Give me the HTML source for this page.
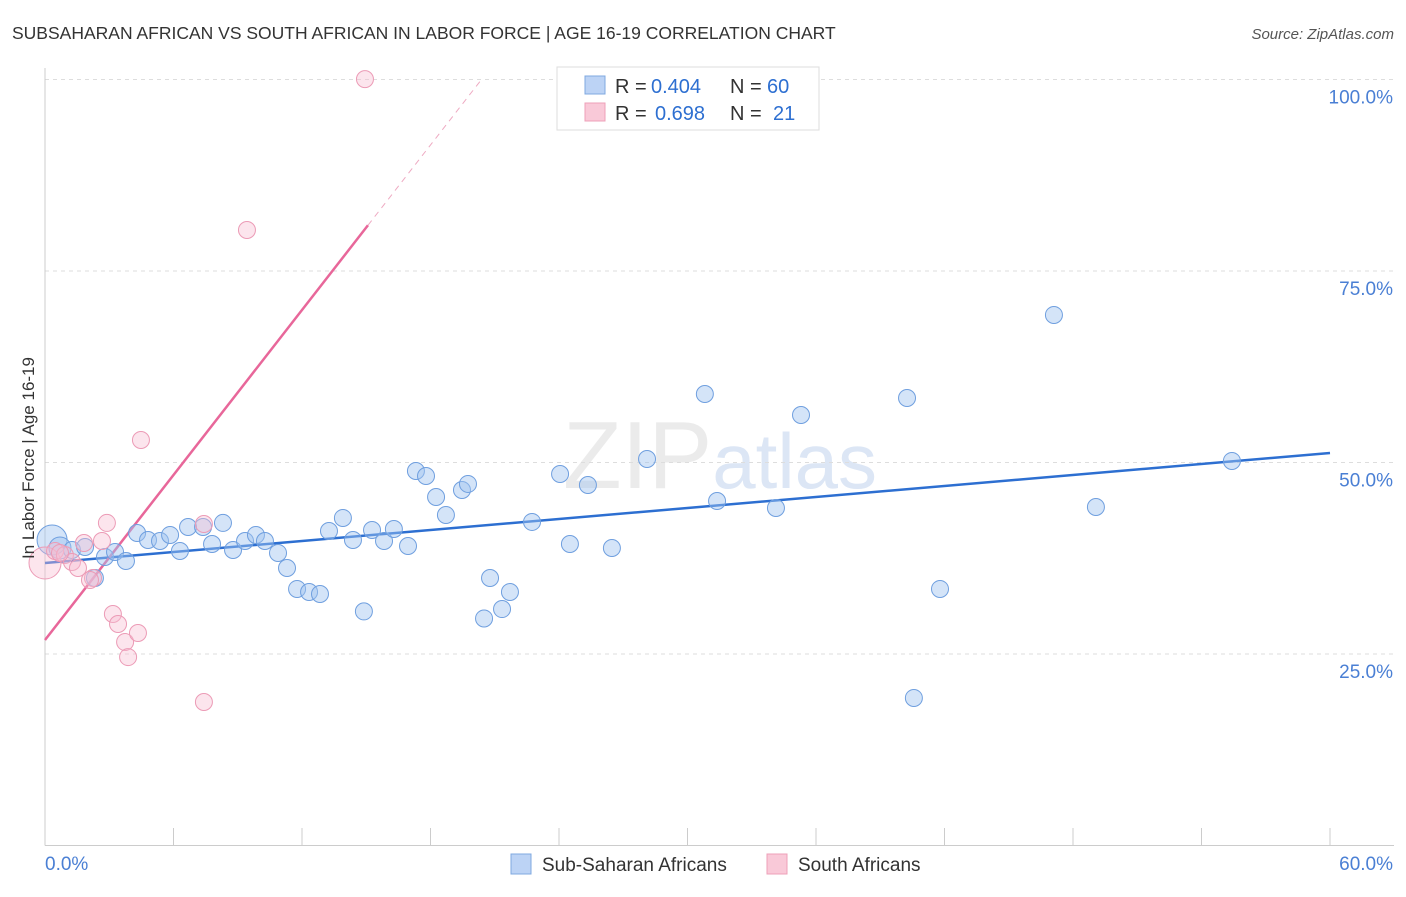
<!DOCTYPE html>
<html><head><meta charset="utf-8"><style>
body{margin:0;background:#fff;font-family:"Liberation Sans",sans-serif;}
svg text{font-family:"Liberation Sans",sans-serif;}
</style></head><body>
<svg id="chart" width="1406" height="892" xmlns="http://www.w3.org/2000/svg">
<text x="12" y="39" font-size="17.5" fill="#333">SUBSAHARAN AFRICAN VS SOUTH AFRICAN IN LABOR FORCE | AGE 16-19 CORRELATION CHART</text>
<text x="1394" y="39" font-size="15" fill="#555" text-anchor="end" font-style="italic">Source: ZipAtlas.com</text>
<text x="720" y="488" font-size="96" text-anchor="middle" fill="#ebebeb" font-family="Liberation Serif"><tspan>ZIP</tspan><tspan fill="#dce6f5" font-family="Liberation Sans" font-size="78">atlas</tspan></text>
<g id="grid"></g>
<g id="axes"></g>
<g id="trend"></g>
<g id="pts"></g>
<text transform="translate(34,458) rotate(-90)" font-size="17" fill="#333" text-anchor="middle">In Labor Force | Age 16-19</text>
<g>
<rect x="557" y="67" width="262" height="63" fill="#fff" stroke="#ddd"/>
<rect x="585" y="76" width="20" height="18" fill="#bcd3f5" stroke="#7fa8e0"/>
<rect x="585" y="103" width="20" height="18" fill="#f9c9d8" stroke="#eea0b8"/>
<text x="615" y="93" font-size="20" fill="#333">R =</text>
<text x="651" y="93" font-size="20" fill="#2d6fd1">0.404</text>
<text x="730" y="93" font-size="20" fill="#333">N =</text>
<text x="767" y="93" font-size="20" fill="#2d6fd1">60</text>
<text x="615" y="120" font-size="20" fill="#333">R =</text>
<text x="655" y="120" font-size="20" fill="#2d6fd1">0.698</text>
<text x="730" y="120" font-size="20" fill="#333">N =</text>
<text x="773" y="120" font-size="20" fill="#2d6fd1">21</text>
</g>
<g>
<rect x="511" y="854" width="20" height="20" fill="#bcd3f5" stroke="#7fa8e0"/>
<text x="542" y="871" font-size="19" fill="#333">Sub-Saharan Africans</text>
<rect x="767" y="854" width="20" height="20" fill="#f9c9d8" stroke="#eea0b8"/>
<text x="798" y="871" font-size="19" fill="#333">South Africans</text>
</g>
</svg>
<script>
const blueX=[0.33,0.70,1.26,1.87,2.33,2.80,3.27,3.78,4.30,4.81,5.37,5.84,6.30,6.68,7.38,7.80,8.31,8.78,9.34,9.85,10.27,10.88,11.30,11.77,12.33,12.84,13.26,13.91,14.38,14.89,15.27,15.83,16.29,16.95,17.32,17.79,18.26,18.72,19.47,19.75,20.50,20.78,21.34,21.71,22.74,24.05,24.51,25.35,26.47,28.11,30.81,31.38,34.13,35.30,40.25,40.57,41.79,47.11,49.07,55.42];
const blueY=[39.88,38.84,38.58,38.97,34.92,37.66,38.32,37.14,40.80,39.88,39.75,40.54,38.45,41.58,41.58,39.36,42.11,38.58,39.75,40.54,39.75,38.19,36.23,33.49,33.09,32.83,41.06,42.76,39.88,30.56,41.19,39.75,41.32,39.10,48.89,48.24,45.50,43.15,46.41,47.20,29.64,34.92,30.87,33.09,42.24,48.50,39.36,47.06,38.84,50.46,58.94,44.97,44.06,56.20,58.42,19.26,33.49,69.26,44.19,50.20];
const blueR=[15,11,8.5,8.5,8.5,8.5,8.5,8.5,8.5,8.5,8.5,8.5,8.5,8.5,8.5,8.5,8.5,8.5,8.5,8.5,8.5,8.5,8.5,8.5,8.5,8.5,8.5,8.5,8.5,8.5,8.5,8.5,8.5,8.5,8.5,8.5,8.5,8.5,8.5,8.5,8.5,8.5,8.5,8.5,8.5,8.5,8.5,8.5,8.5,8.5,8.5,8.5,8.5,8.5,8.5,8.5,8.5,8.5,8.5,8.5];
const pinkX=[0,0.47,0.93,1.26,1.54,1.82,2.24,2.66,2.89,3.17,3.41,3.74,3.88,4.34,4.48,7.42,7.42,9.43,14.94,0.70,2.10];
const pinkY=[36.88,38.45,37.92,37.01,36.23,39.49,34.92,39.75,42.11,30.22,28.92,26.56,24.6,27.74,52.94,18.73,41.97,80.35,100.05,38.19,34.66];
const pinkR=[16,8.5,8.5,8.5,8.5,8.5,8.5,8.5,8.5,8.5,8.5,8.5,8.5,8.5,8.5,8.5,8.5,8.5,8.5,8.5,8.5];
const yTicks=[25,50,75,100];
const yTickLabels=["25.0%","50.0%","75.0%","100.0%"];
const xTicks=[0,6,12,18,24,30,36,42,48,54,60];
const blueTrend=[36.88,51.24];
const pinkTrend=[26.83,3.59];
const NS="http://www.w3.org/2000/svg";
const X=v=>45+v/60*1285, Y=v=>845.5-v/100*766;
function mk(tag,attrs,parent){const e=document.createElementNS(NS,tag);for(const k in attrs)e.setAttribute(k,attrs[k]);document.getElementById(parent).appendChild(e);return e;}
yTicks.forEach((t,i)=>{
 const l=mk('line',{x1:45,x2:1394,y1:Y(t),y2:Y(t),stroke:'#ddd','stroke-dasharray':'4,4'},'grid');
 
 
 const tx=mk('text',{x:1393,y:Y(t)+24,'font-size':19,fill:'#4a7fd4','text-anchor':'end'},'grid');
 tx.textContent=yTickLabels[i];
 
 
});
const ax=mk('line',{x1:45,x2:1394,y1:845.5,y2:845.5,stroke:'#ccc'},'axes');


const ay=mk('line',{x1:45,x2:45,y1:68,y2:845.5,stroke:'#ccc'},'axes');


xTicks.forEach(t=>{const l=mk('line',{x1:X(t),x2:X(t),y1:828,y2:845.5,stroke:'#ccc'},'axes');
 
 });
const xl0=mk('text',{x:45,y:870,'font-size':19,fill:'#4a7fd4'},'axes');xl0.textContent='0.0%';


const xl1=mk('text',{x:1393,y:870,'font-size':19,fill:'#4a7fd4','text-anchor':'end'},'axes');xl1.textContent='60.0%';


blueX.forEach((x,i)=>{const c=mk('circle',{cx:X(x),cy:Y(blueY[i]),r:blueR[i],fill:'rgba(160,195,240,0.45)',stroke:'#6f9fdf','stroke-width':1},'pts');
 
 });
pinkX.forEach((x,i)=>{const c=mk('circle',{cx:X(x),cy:Y(pinkY[i]),r:pinkR[i],fill:'rgba(248,190,210,0.4)',stroke:'#ec9bb6','stroke-width':1},'pts');
 
 });
const bt=mk('line',{x1:X(0),y1:Y(blueTrend[0]),x2:X(60),y2:Y(blueTrend[1]),stroke:'#2d6fd1','stroke-width':2.5},'trend');


const pEnd=15.08, pTop=(100-pinkTrend[0])/pinkTrend[1];
const pt=mk('line',{x1:X(0),y1:Y(pinkTrend[0]),x2:X(pEnd),y2:Y(pinkTrend[0]+pinkTrend[1]*pEnd),stroke:'#e8679a','stroke-width':2.5},'trend');


const pd=mk('line',{x1:X(pEnd),y1:Y(pinkTrend[0]+pinkTrend[1]*pEnd),x2:X(pTop),y2:Y(100),stroke:'#eeaac2','stroke-width':1,'stroke-dasharray':'6,5'},'trend');


</script>
</body></html>
